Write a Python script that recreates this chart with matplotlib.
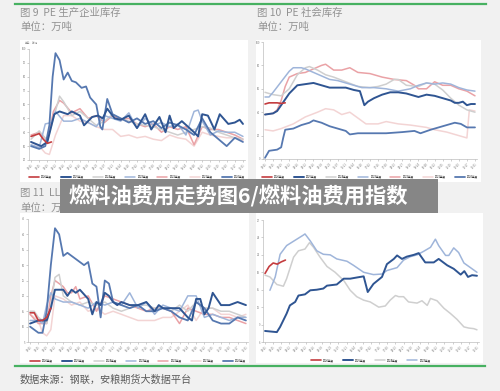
import matplotlib
matplotlib.use("Agg")
import matplotlib.pyplot as plt
from matplotlib.patches import Rectangle
from matplotlib.lines import Line2D

plt.rcParams['font.family'] = ['Noto Sans CJK SC', 'DejaVu Sans']

# ---- data (week index, value) ----
years = ["2026年度", "2025年度", "2024年度", "2023年度", "2022年度", "2021年度", "2020年度"]
tick_labels = ["01-01", "01-15", "01-29", "02-12", "02-26", "03-12", "03-26", "04-09", "04-23",
               "05-07", "05-21", "06-04", "06-18", "07-02", "07-16", "07-30", "08-13", "08-27",
               "09-10", "09-24", "10-08", "10-22", "11-05", "11-19", "12-03", "12-17", "12-31"]

# 图9 PE 生产企业库存
p1_2026_w = [0, 1, 2, 3, 4, 5]
p1_2026 = [37, 38, 39, 35, 32, 33]
p1_2025_w = [0, 2.5, 4, 5.7, 7, 9, 10, 12, 13, 15, 16.4, 17.6, 18.7, 20.5, 22, 24, 26, 28, 29.5, 31.5,
             33, 34, 35, 37, 40, 41, 42, 43.4, 45, 46.3, 48.4, 50, 51.2, 52]
p1_2025 = [33, 30, 33, 53, 55, 53, 55, 52, 45, 51, 52, 50, 57, 50, 49, 52, 43, 53, 42, 51,
           40, 52, 43, 48, 40, 37, 53, 52, 42, 53, 46, 47, 49, 46]
p1_2024_w = [0, 2, 4, 5.5, 7, 8, 10, 12, 14, 16, 18, 20, 22, 24, 26, 28, 30, 32, 34, 36, 38, 40, 42, 44, 46, 48, 50, 52]
p1_2024 = [35, 41, 34, 50, 66, 62, 52, 55, 50, 45, 48, 53, 50, 48, 46, 45, 44, 42, 40, 38, 40, 42, 44, 43, 40, 38, 36, 35]
p1_2023_w = [0, 2, 3.5, 5, 6, 8, 10, 12, 14, 16, 18, 20, 22, 24, 26, 28, 30, 32, 34, 36, 38, 40, 41, 42, 44, 46, 48, 50, 52]
p1_2023 = [31, 29, 46, 47, 55, 48, 48, 50, 47, 44, 52, 50, 48, 54, 43, 50, 45, 47, 44, 46, 38, 55, 56, 48, 38, 41, 40, 40, 37]
p1_2022_w = [0, 2, 4, 5.5, 7, 8, 10, 12, 14, 16, 18, 20, 22, 24, 26, 28, 30, 32, 34, 36, 38, 40, 42, 44, 46, 48, 50, 52]
p1_2022 = [38, 40, 34, 55, 63, 61, 54, 57, 50, 52, 47, 52, 49, 50, 46, 44, 46, 40, 44, 42, 44, 31, 44, 42, 42, 40, 38, 35]
p1_2021_w = [0, 2, 3.5, 4.5, 6, 8, 10, 12, 14, 16, 18, 20, 22, 24, 26, 28, 30, 32, 34, 36, 38, 40, 42, 44, 46, 48, 50, 52]
p1_2021 = [33, 30, 25, 24, 38, 52, 52, 48, 47, 44, 42, 42, 37, 38, 36, 37, 35, 34, 38, 36, 35, 30, 40, 38, 37, 36, 36, 34]
p1_2020_w = [0, 2, 3.5, 4.5, 5.3, 6, 7, 8, 9, 10, 11, 12.4, 13.5, 14.5, 16, 17, 17.5, 18.7, 20, 22,
             24, 26, 28, 30, 32, 34, 36, 38, 40, 42, 44, 46, 48, 50, 52]
p1_2020 = [30, 28, 30, 45, 80, 97, 92, 78, 83, 77, 76, 72, 73, 65, 60, 44, 42, 64, 53, 50,
           47, 50, 46, 48, 43, 47, 45, 42, 38, 50, 40, 35, 30, 36, 33]

# 图10 PE 社会库存
p2_2026_w = [0, 1, 2, 3, 4, 5]
p2_2026 = [47, 48, 48, 48, 47.5, 48]
p2_2025_w = [0, 2, 3, 4, 6, 8, 10, 12, 14, 16, 18, 20, 22, 23.5, 24.6, 25.5, 27, 29, 31, 33,
             35, 38, 40, 42, 44, 46, 47, 48, 49, 50, 51, 52]
p2_2025 = [38, 39, 41, 46, 56, 63, 64, 65, 63, 61, 61, 61, 59, 58, 46, 49, 52, 55, 57, 57,
           56, 53, 55, 54, 52, 50, 48, 48, 49, 46, 47, 47]
p2_2024_w = [0, 2, 4, 6, 8, 10, 11, 13, 15, 17, 20, 23, 26, 28, 30, 32, 33, 35, 38, 40, 42, 44, 46, 48, 50, 52]
p2_2024 = [57, 55, 54, 60, 72, 78, 79, 76, 72, 70, 66, 62, 61, 62, 64, 68, 68, 63, 62, 65, 64, 59, 52, 46, 42, 40]
p2_2023_w = [0, 1, 2, 4, 6, 7, 9, 10, 12, 14, 16, 18, 20, 22, 24, 27, 30, 33, 36, 38, 40, 42, 44, 46, 48, 50, 52]
p2_2023 = [53, 53, 57, 66, 75, 78, 78, 77, 74, 71, 68, 67, 65, 63, 61, 61, 60, 58, 60, 63, 65, 64, 65, 64, 61, 59, 58]
p2_2022_w = [0, 2, 3, 4, 5, 6, 8, 10, 12, 14, 15, 17, 19, 21, 23, 26, 29, 32, 35, 37, 38, 40, 42, 44, 46, 48, 50, 52]
p2_2022 = [38, 39, 42, 50, 62, 70, 73, 74, 77, 80, 81, 76, 76, 78, 74, 73, 70, 68, 67, 63, 60, 60, 66, 63, 63, 60, 58, 54]
p2_2021_w = [0, 2, 4, 7, 10, 13, 15, 17, 19, 21, 23, 25, 28, 30, 33, 36, 38, 40, 42, 45, 48, 50, 50.6, 52]
p2_2021 = [25, 24, 26, 30, 36, 40, 43, 42, 38, 40, 35, 30, 30, 32, 30, 29, 28, 27, 25, 23, 20, 18, 42, 41]
p2_2020_w = [0, 1, 3, 4, 4.5, 5, 7, 9, 11, 12, 14, 16, 18, 20, 21, 23, 26, 30, 34, 37, 38.5, 41, 44, 47, 48.5, 50, 52]
p2_2020 = [1, 7, 8, 10, 18, 25, 26, 29, 31, 33, 31, 28, 26, 24, 21, 22, 22, 22, 23, 24, 22, 25, 28, 31, 30, 27, 27]

# 图11 LLDPE 生产企业库存
p3_2026_w = [0, 1, 2, 3, 4, 5]
p3_2026 = [14.5, 14.5, 12, 12, 13, 16]
p3_2025_w = [0, 2, 4, 5, 6, 8, 9, 10, 11, 12, 14, 15, 16, 17, 18, 19, 20, 21, 22, 24,
             26, 28, 30, 31, 32, 34, 36, 38, 39, 40, 41, 42, 43, 44, 45, 46, 48, 50, 52]
p3_2025 = [11, 12, 12, 16, 22, 22, 20, 22, 21, 22, 19, 14, 18, 17, 21, 20, 18, 17, 18, 17,
           17, 18, 15, 17, 16, 16, 16, 13, 12, 19, 19, 14, 16, 21, 19, 17, 17, 18, 17]
p3_2024_w = [0, 1, 2, 4, 5, 6, 7, 8, 10, 12, 14, 16, 18, 20, 22, 24, 26, 28, 30, 32, 34, 36, 38, 40, 42, 44, 46, 48, 50, 52]
p3_2024 = [15, 15, 13, 11, 17, 26, 27, 20, 18, 17, 18, 17, 18, 16, 15, 16, 17, 17, 16, 16, 15, 17, 15, 18, 16, 16, 15, 15, 14, 13]
p3_2023_w = [0, 2, 3, 4, 5, 6, 8, 10, 12, 14, 16, 18, 20, 22, 24, 26, 28, 30, 32, 34, 36, 38, 40, 42, 44, 46, 48, 50, 52]
p3_2023 = [12, 12, 11, 17, 21, 19, 18, 18, 17, 16, 18, 17, 18, 17, 21, 16, 18, 14, 17, 16, 15, 20, 20, 13, 14, 13, 12, 13, 13]
p3_2022_w = [0, 2, 4, 5, 6, 8, 9, 10, 11, 12, 14, 16, 18, 20, 22, 24, 26, 28, 30, 32, 34, 36, 38, 40, 42, 44, 46, 48, 50, 52]
p3_2022 = [14, 11, 11, 20, 25, 23, 21, 21, 23, 19, 20, 15, 20, 19, 18, 17, 16, 15, 16, 16, 15, 11, 16, 15, 14, 14, 13, 13, 12, 11]
p3_2021_w = [0, 2, 3, 4, 5, 6, 8, 10, 12, 14, 16, 18, 20, 22, 24, 26, 28, 30, 32, 34, 36, 38, 40, 42, 44, 46, 48, 50, 52]
p3_2021 = [14, 12, 8, 7, 9, 20, 19, 17, 18, 15, 16, 14, 15, 14, 13, 12, 12, 12, 13, 13, 15, 17, 12, 16, 16, 14, 14, 13, 14]
p3_2020_w = [0, 1, 2, 3, 4, 5, 6, 7, 8, 9, 10, 11, 12, 13, 14, 15, 16, 17, 18, 19, 20,
             22, 24, 26, 28, 30, 32, 34, 36, 38, 40, 42, 44, 46, 48, 50, 52]
p3_2020 = [10, 9, 8, 8, 15, 30, 42, 40, 33, 34, 33, 32, 31, 30, 31, 24, 23, 13, 25, 24, 18,
           17, 16, 17, 15, 15, 16, 15, 13, 12, 18, 16, 12, 11, 11, 13, 12]

# 图12 (LLDPE 社会库存)
p4_2026_w = [0, 1, 2, 3, 4, 5]
p4_2026 = [17.8, 19.0, 19.6, 19.4, 19.8, 20.1]
p4_2025_w = [0, 2.9, 3.7, 5.3, 6.1, 7.4, 8.2, 9.8, 11.1, 12.7, 14.3, 15.2, 17.6, 19.3, 20.9, 22.5, 24.2, 25.2,
             26.6, 28.7, 29.9, 31.6, 32.4, 33.6, 34.8, 36.5, 37.7, 39.3, 41.4, 42.6, 44.7, 46.3, 48, 48.9,
             49.8, 50.8, 52]
p4_2025 = [7.9, 7.7, 8.6, 10.9, 12.3, 12.9, 14.0, 14.2, 14.9, 15.0, 15.2, 15.7, 15.9, 16.9, 16.9, 17.1, 17.3, 14.6,
           16.0, 17.2, 19.4, 20.3, 20.9, 20.3, 20.7, 21.0, 21.3, 19.7, 19.7, 20.3, 19.2, 18.6, 17.6, 18.2,
           17.2, 17.5, 17.4]
p4_2024_w = [0, 1.2, 2.9, 4.5, 5.3, 7, 8.2, 9.8, 10.9, 11.9, 13.5, 15.2, 17.2, 19.3, 20.9, 22.5, 24.2, 25.8,
             27.9, 29.5, 30.7, 32, 32.8, 34, 35.2, 37.3, 38.5, 39.8, 40.6, 42.2, 43.9, 45.5, 47.1, 48.8, 50, 51.2, 52]
p4_2024 = [17.5, 17.2, 15.9, 15.6, 16.9, 20.6, 21.7, 22.0, 23.1, 22.3, 20.6, 19.0, 18.0, 16.6, 14.9, 13.8, 13.2, 12.9,
           12.0, 12.2, 13.2, 14.0, 13.8, 13.8, 12.9, 12.7, 13.1, 12.3, 13.5, 13.1, 11.8, 10.9, 9.9, 8.6, 8.4, 8.3, 8.1]
p4_2023_w = [1.2, 2.5, 3.7, 5.3, 7.8, 9.4, 9.8, 11.1, 12.7, 14.3, 16, 17.6, 20.1, 21.7, 24.2, 26.6, 28.7, 29.9,
             32.4, 34, 35.7, 37.3, 38.9, 40.6, 41.8, 42.6, 44.3, 45.1, 46.3, 47.5, 48.8, 50.4, 52]
p4_2023 = [14.9, 17.2, 21.1, 22.6, 23.7, 24.4, 24.6, 23.4, 21.7, 21.1, 21.0, 20.3, 19.9, 19.2, 18.0, 17.6, 17.7, 18.3,
           18.8, 20.1, 20.7, 21.0, 21.6, 22.3, 23.7, 22.6, 20.9, 20.9, 22.2, 21.4, 19.6, 18.8, 18.0]

colors = {"2026年度": "#c43c3f", "2025年度": "#2f5592", "2024年度": "#cfcfcf", "2023年度": "#9fb5da",
          "2022年度": "#eaa2a6", "2021年度": "#f3d4d4", "2020年度": "#5678b0"}
widths = {"2026年度": 1.2, "2025年度": 1.4, "2024年度": 1.1, "2023年度": 1.1,
          "2022年度": 1.1, "2021年度": 1.1, "2020年度": 1.3}
draw_order = ["2021年度", "2022年度", "2024年度", "2023年度", "2020年度", "2025年度", "2026年度"]

W, H = 500, 391
fig = plt.figure(figsize=(5, 3.91), dpi=100, facecolor="#f1f1f1")


def fbox(l, t, r, b):
    return [l / W, 1 - b / H, (r - l) / W, (b - t) / H]


def white_box(l, t, r, b):
    fig.add_artist(Rectangle((l / W, 1 - b / H), (r - l) / W, (b - t) / H, transform=fig.transFigure,
                             facecolor="white", edgecolor="none", zorder=-2))


def panel(box, series, ylim, yticks, legend_years):
    ax = fig.add_axes(fbox(*box))
    ax.set_facecolor("none")
    handles = {}
    for y in draw_order:
        if y in series:
            w, v = series[y]
            handles[y], = ax.plot(w, v, color=colors[y], lw=widths[y], label=y,
                                  solid_capstyle="round", solid_joinstyle="round")
    ax.set_xlim(-0.5, 52.5)
    ax.set_ylim(*ylim)
    ax.set_yticks(yticks)
    ax.set_yticklabels([str(t) for t in yticks], fontsize=1.9, color="#777777")
    ax.set_xticks(range(0, 53, 2))
    ax.set_xticklabels(tick_labels, fontsize=1.9, color="#777777", rotation=45, ha="right",
                       rotation_mode="anchor")
    ax.tick_params(length=1.2, width=0.4, pad=1, colors="#aaaaaa", labelcolor="#777777")
    for s in ["top", "right"]:
        ax.spines[s].set_visible(False)
    for s in ["left", "bottom"]:
        ax.spines[s].set_color("#bdbdbd")
        ax.spines[s].set_linewidth(0.5)
    ax.legend([handles[y] for y in legend_years], legend_years, loc="center",
              bbox_to_anchor=(0.5, -0.15), ncol=len(legend_years), fontsize=1.9, frameon=False,
              handlelength=3.8, handletextpad=0.8, columnspacing=3.3)
    return ax


# white chart backgrounds
white_box(20, 40, 248, 182)
white_box(256, 40, 481, 182)
white_box(20, 213, 249, 363)
white_box(256, 213, 483, 363)

panel((29, 49, 245, 160),
      {"2026年度": (p1_2026_w, p1_2026), "2025年度": (p1_2025_w, p1_2025), "2024年度": (p1_2024_w, p1_2024),
       "2023年度": (p1_2023_w, p1_2023), "2022年度": (p1_2022_w, p1_2022), "2021年度": (p1_2021_w, p1_2021),
       "2020年度": (p1_2020_w, p1_2020)},
      (20, 100), list(range(20, 101, 10)), years)
fig.text(25 / W, 1 - 43 / H, "单位：万吨", fontsize=1.9, color="#888888", va="center")

panel((263, 42, 477, 159),
      {"2026年度": (p2_2026_w, p2_2026), "2025年度": (p2_2025_w, p2_2025), "2024年度": (p2_2024_w, p2_2024),
       "2023年度": (p2_2023_w, p2_2023), "2022年度": (p2_2022_w, p2_2022), "2021年度": (p2_2021_w, p2_2021),
       "2020年度": (p2_2020_w, p2_2020)},
      (0, 100), list(range(0, 101, 20)), years)

panel((28, 219, 248, 342),
      {"2026年度": (p3_2026_w, p3_2026), "2025年度": (p3_2025_w, p3_2025), "2024年度": (p3_2024_w, p3_2024),
       "2023年度": (p3_2023_w, p3_2023), "2022年度": (p3_2022_w, p3_2022), "2021年度": (p3_2021_w, p3_2021),
       "2020年度": (p3_2020_w, p3_2020)},
      (5, 45), list(range(5, 46, 5)), years)

panel((263, 220, 479, 342),
      {"2026年度": (p4_2026_w, p4_2026), "2025年度": (p4_2025_w, p4_2025), "2024年度": (p4_2024_w, p4_2024),
       "2023年度": (p4_2023_w, p4_2023)},
      (6, 27), list(range(6, 28, 3)), years[:4])

# titles and units
title_kw = dict(fontsize=7.5, color="#929292", va="center", ha="left")
fig.text(20 / W, 1 - 13 / H, "图 9  PE 生产企业库存", **title_kw)
fig.text(20 / W, 1 - 27 / H, "单位：万吨", **title_kw)
fig.text(257 / W, 1 - 13 / H, "图 10  PE 社会库存", **title_kw)
fig.text(257 / W, 1 - 27 / H, "单位：万吨", **title_kw)
fig.text(20 / W, 1 - 193 / H, "图 11  LLDPE 生产企业库存", **title_kw)
fig.text(20 / W, 1 - 208 / H, "单位：万吨", **title_kw)
fig.text(257 / W, 1 - 193 / H, "图 12  LLDPE 社会库存", **title_kw)
fig.text(257 / W, 1 - 208 / H, "单位：万吨", **title_kw)

# green separator lines
fig.add_artist(Line2D([15 / W, 486 / W], [1 - 3.5 / H, 1 - 3.5 / H], transform=fig.transFigure,
                      color="#47b161", lw=1.6))
fig.add_artist(Line2D([15 / W, 485 / W], [1 - 365.5 / H, 1 - 365.5 / H], transform=fig.transFigure,
                      color="#47b161", lw=1.6))

fig.text(20 / W, 1 - 380 / H, "数据来源：钢联，安粮期货大数据平台", fontsize=7.3, color="#5a5a5a",
         va="center", ha="left")

# dark caption banner over the middle
fig.add_artist(Rectangle((60 / W, 1 - 213 / H), 378 / W, 34 / H, transform=fig.transFigure,
                         facecolor="#868686", edgecolor="none", zorder=10))
fig.text(238 / W, 1 - 196 / H, "燃料油费用走势图6/燃料油费用指数", fontsize=15.3, fontweight="bold",
         color="white", va="center", ha="center", zorder=11)

fig.savefig("out.png", dpi=100, facecolor=fig.get_facecolor())
